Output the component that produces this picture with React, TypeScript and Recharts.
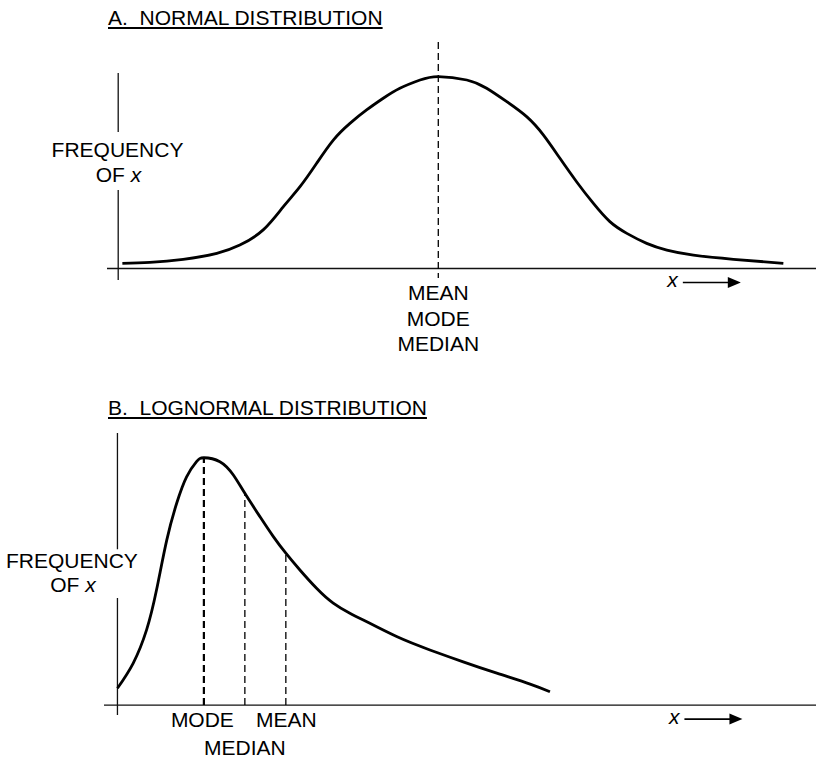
import React from 'react';
import { ComposedChart, Line, XAxis, YAxis, ReferenceLine, ReferenceDot } from 'recharts';

const FONT = '"Liberation Sans", Arial, Helvetica, sans-serif';
const FS = 21;

// ---------- Panel A: normal distribution ----------
const normalX = [0.13, 0.99, 2.03, 3.08, 3.8, 4.53, 5.16, 5.68, 6.2, 6.72, 7.24, 7.76, 8.28, 8.8, 9.43, 10.0, 10.89, 11.51, 12.14, 12.76, 13.28, 13.8, 14.32, 14.84, 15.36, 15.89, 16.51, 17.14, 17.97, 19.22, 20.78];
const normalFreq = [0.027, 0.032, 0.048, 0.079, 0.122, 0.201, 0.322, 0.426, 0.548, 0.669, 0.756, 0.826, 0.887, 0.939, 0.982, 1.0, 0.982, 0.939, 0.869, 0.791, 0.696, 0.574, 0.452, 0.34, 0.244, 0.183, 0.131, 0.096, 0.07, 0.048, 0.027];
const normalMean = 10;
const normalCenterLabels = ['MEAN', 'MODE', 'MEDIAN'];

// ---------- Panel B: lognormal distribution ----------
const lognormX = [0, 0.49, 0.91, 1.22, 1.54, 1.85, 2.16, 2.47, 2.7, 3.2, 3.62, 3.98, 4.45, 4.87, 5.26, 5.7, 6.22, 6.74, 7.26, 7.68, 8.72, 9.76, 10.8, 11.85, 12.89, 13.51];
const lognormFreq = [0.068, 0.169, 0.304, 0.465, 0.667, 0.816, 0.923, 0.984, 1.0, 0.984, 0.93, 0.856, 0.762, 0.681, 0.614, 0.546, 0.472, 0.412, 0.371, 0.344, 0.277, 0.223, 0.175, 0.129, 0.085, 0.054];
const markerNames = ['MODE', 'MEDIAN', 'MEAN'];
const markerX = [2.7, 3.98, 5.26];
const markerFreq = [1.0, 0.856, 0.614];

const titles = ['A.  NORMAL DISTRIBUTION', 'B.  LOGNORMAL DISTRIBUTION'];

const normalData = normalX.map((x, i) => ({ x, y: normalFreq[i] }));
const lognormData = lognormX.map((x, i) => ({ x, y: lognormFreq[i] }));

const axisStyle = { stroke: '#111', strokeWidth: 1.3 };
const textProps = { fontFamily: FONT, fontSize: FS, fill: '#000' };

const freqLabel = (dx: number, gap: number) => (p: any) => (
  <g>
    <text x={p.cx + dx} y={p.cy} textAnchor="middle" {...textProps}>FREQUENCY</text>
    <text x={p.cx + dx + 1} y={p.cy + gap} textAnchor="middle" {...textProps}>
      OF <tspan fontStyle="italic">x</tspan>
    </text>
  </g>
);

const arrowLabel = (p: any) => (
  <g>
    <text x={p.cx - 5} y={p.cy + 18.5} textAnchor="end" fontStyle="italic" {...textProps}>x</text>
    <line x1={p.cx} y1={p.cy + 14} x2={p.cx + 46} y2={p.cy + 14} stroke="#000" strokeWidth={1.6} />
    <polygon points={`${p.cx + 45},${p.cy + 8.5} ${p.cx + 58},${p.cy + 14} ${p.cx + 45},${p.cy + 19.5}`} fill="#000" />
  </g>
);

const stackedLabel = (lines: string[], first: number, step: number) => (p: any) => (
  <g>
    {lines.map((t, i) => (
      <text key={t} x={p.cx} y={p.cy + first + i * step} textAnchor="middle" {...textProps}>{t}</text>
    ))}
  </g>
);

const singleLabel = (t: string, dx: number, dy: number) => (p: any) => (
  <text x={p.cx + dx} y={p.cy + dy} textAnchor="middle" {...textProps}>{t}</text>
);

const titleStyle = (top: number): React.CSSProperties => ({
  position: 'absolute',
  left: 108,
  top,
  fontFamily: FONT,
  fontSize: FS,
  lineHeight: `${FS}px`,
  textDecoration: 'underline',
  textUnderlineOffset: '2px',
  whiteSpace: 'pre',
  color: '#000',
});

const markerOffsets = [
  { dx: -1.5, dy: 22 },
  { dx: 0, dy: 50 },
  { dx: 0.5, dy: 22 },
];

export default function App() {
  return (
    <div style={{ position: 'absolute', left: 0, top: 0, width: 816, height: 759, background: '#fff', overflow: 'hidden' }}>
      <div style={titleStyle(7)}>{titles[0]}</div>
      <div style={titleStyle(397)}>{titles[1]}</div>

      <div style={{ position: 'absolute', left: 0, top: 0 }}>
        <ComposedChart width={816} height={380} data={normalData} margin={{ top: 42, right: 0, bottom: 100, left: 107 }}>
          <XAxis type="number" dataKey="x" domain={[-0.35, 21.8]} hide allowDataOverflow />
          <YAxis type="number" domain={[-0.06, 1.18]} hide allowDataOverflow />
          <ReferenceLine y={0} {...axisStyle} ifOverflow="visible" />
          <ReferenceLine segment={[{ x: 0, y: 1.019 }, { x: 0, y: 0.711 }]} {...axisStyle} ifOverflow="visible" />
          <ReferenceLine segment={[{ x: 0, y: 0.409 }, { x: 0, y: -0.06 }]} {...axisStyle} ifOverflow="visible" />
          <ReferenceLine segment={[{ x: normalMean, y: 1.18 }, { x: normalMean, y: -0.05 }]} stroke="#000" strokeWidth={1.3} strokeDasharray="7 4" ifOverflow="visible" />
          <Line type="natural" dataKey="y" stroke="#000" strokeWidth={2.8} dot={false} activeDot={false} isAnimationActive={false} />
          <ReferenceDot x={0} y={0.581} r={0} ifOverflow="visible" shape={freqLabel(-0.7, 25)} />
          <ReferenceDot x={normalMean} y={0} r={0} ifOverflow="visible" shape={stackedLabel(normalCenterLabels, 32, 25.5)} />
          <ReferenceDot x={17.64} y={0} r={0} ifOverflow="visible" shape={arrowLabel} />
        </ComposedChart>
      </div>

      <div style={{ position: 'absolute', left: 0, top: 380 }}>
        <ComposedChart width={816} height={379} data={lognormData} margin={{ top: 53, right: 0, bottom: 44, left: 104 }}>
          <XAxis type="number" dataKey="x" domain={[-0.42, 21.82]} hide allowDataOverflow />
          <YAxis type="number" domain={[-0.04, 1.1]} hide allowDataOverflow />
          <ReferenceLine y={0} {...axisStyle} ifOverflow="visible" />
          <ReferenceLine segment={[{ x: 0, y: 1.1 }, { x: 0, y: 0.63 }]} {...axisStyle} ifOverflow="visible" />
          <ReferenceLine segment={[{ x: 0, y: 0.433 }, { x: 0, y: -0.04 }]} {...axisStyle} ifOverflow="visible" />
          {markerX.map((mx, i) => (
            <ReferenceLine
              key={markerNames[i]}
              segment={[{ x: mx, y: 0 }, { x: mx, y: markerFreq[i] }]}
              stroke="#000"
              strokeWidth={i === 0 ? 2.2 : 1.3}
              strokeDasharray="7 4"
              ifOverflow="visible"
            />
          ))}
          <Line type="natural" dataKey="y" stroke="#000" strokeWidth={2.8} dot={false} activeDot={false} isAnimationActive={false} />
          <ReferenceDot x={0} y={0.554} r={0} ifOverflow="visible" shape={freqLabel(-45.5, 24)} />
          {markerX.map((mx, i) => (
            <ReferenceDot key={'l' + markerNames[i]} x={mx} y={0} r={0} ifOverflow="visible" shape={singleLabel(markerNames[i], markerOffsets[i].dx, markerOffsets[i].dy)} />
          ))}
          <ReferenceDot x={17.71} y={0} r={0} ifOverflow="visible" shape={arrowLabel} />
        </ComposedChart>
      </div>
    </div>
  );
}
